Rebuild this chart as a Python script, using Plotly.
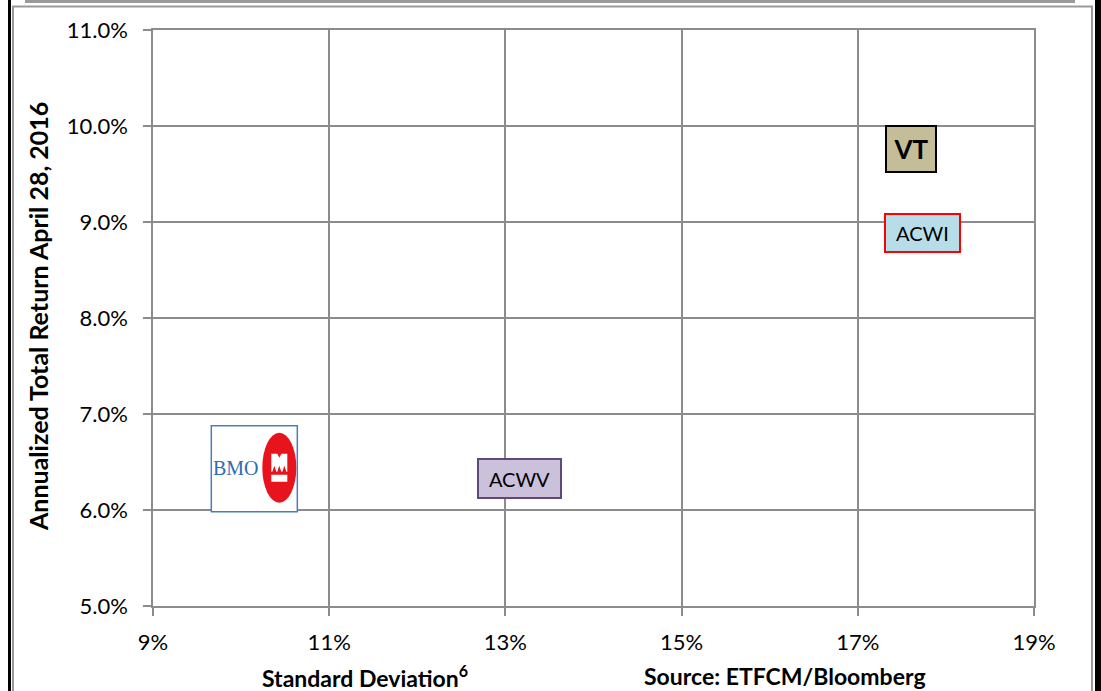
import plotly.graph_objects as go

# ---- data ----
funds = ["VT", "ACWI", "ACWV", "BMO"]
std_dev = [17.6, 17.73, 13.16, 10.15]
ann_return = [9.76, 8.885, 6.33, 6.43]
x_ticks = [9, 11, 13, 15, 17, 19]
x_tick_text = ["9%", "11%", "13%", "15%", "17%", "19%"]
y_ticks = [5, 6, 7, 8, 9, 10, 11]
y_tick_text = ["5.0%", "6.0%", "7.0%", "8.0%", "9.0%", "10.0%", "11.0%"]

FONT = "Lato, 'Open Sans', sans-serif"

W, H = 1101, 691
L, R, T, B = 153, 67, 30, 85
PW, PH = W - L - R, H - T - B


def px_x(p):
    return (p - L) / PW


def px_y(p):
    return (H - B - p) / PH


fig = go.Figure()
fig.add_trace(go.Scatter(x=std_dev, y=ann_return, mode="markers",
                         marker=dict(size=1, opacity=0), hoverinfo="text",
                         text=funds, showlegend=False))

styles = {
    "VT": dict(bg="#c4bd97", border="#000000", bw=2, w=48, h=44,
               text="<b>VT</b>", size=26),
    "ACWI": dict(bg="#b7dee8", border="#ff0000", bw=2, w=73, h=36,
                 text="ACWI", size=20),
    "ACWV": dict(bg="#ccc1da", border="#5f497a", bw=2, w=81, h=37,
                 text="ACWV", size=20),
}

annotations = []
shapes = []
for name, xv, yv in zip(funds, std_dev, ann_return):
    if name not in styles:
        continue
    s = styles[name]
    annotations.append(dict(
        x=xv, y=yv, xref="x", yref="y", showarrow=False,
        xanchor="center", yanchor="middle",
        text=s["text"], font=dict(family=FONT, size=s["size"], color="#000"),
        bgcolor=s["bg"], bordercolor=s["border"], borderwidth=s["bw"],
        borderpad=0, width=s["w"], height=s["h"], align="center",
        valign="middle"))

# BMO logo box: white box, blue text + red roundel with white M-bar
bi = funds.index("BMO")
bx, by = std_dev[bi], ann_return[bi]
shapes.append(dict(type="rect", xref="x", yref="y", xsizemode="pixel",
                   ysizemode="pixel", xanchor=bx, yanchor=by,
                   x0=-43, x1=43, y0=-43, y1=43, fillcolor="#ffffff",
                   line=dict(color="#4a7ebb", width=1.5), layer="above"))
shapes.append(dict(type="circle", xref="x", yref="y", xsizemode="pixel",
                   ysizemode="pixel", xanchor=bx, yanchor=by,
                   x0=8, x1=42, y0=-34, y1=36, fillcolor="#e8141d",
                   line=dict(width=0), layer="above"))
m_path = ("M 17,15 L 23,15 L 25,11 L 27,15 L 33,15 L 33,-3 L 32,-3 L 30,3 "
          "L 28,-3 L 27,-3 L 25,3 L 23,-3 L 22,-3 L 20,3 L 18,-3 L 17,-3 Z "
          "M 17,-6 L 33,-6 L 33,-13 L 17,-13 Z")
shapes.append(dict(type="path", xref="x", yref="y", xsizemode="pixel",
                   ysizemode="pixel", xanchor=bx, yanchor=by, path=m_path,
                   fillcolor="#ffffff", line=dict(width=0), layer="above"))
annotations.append(dict(
    x=bx, y=by, xref="x", yref="y", showarrow=False, xshift=-18, yshift=1,
    xanchor="center", yanchor="middle",
    text="BMO", font=dict(family="'Liberation Serif', 'DejaVu Serif', serif",
                          size=20, color="#2e6db4")))

# outer frame
shapes += [
    dict(type="line", xref="paper", yref="paper", x0=px_x(9.5), x1=px_x(9.5),
         y0=px_y(0), y1=px_y(H + 5), line=dict(color="#000", width=3)),
    dict(type="line", xref="paper", yref="paper", x0=px_x(1098), x1=px_x(1098),
         y0=px_y(0), y1=px_y(H + 5), line=dict(color="#000", width=6)),
    dict(type="rect", xref="paper", yref="paper", x0=px_x(13), x1=px_x(1092),
         y0=px_y(H + 5), y1=px_y(6.5), line=dict(color="#9a9a9a", width=2)),
    dict(type="line", xref="paper", yref="paper", x0=px_x(25), x1=px_x(1075),
         y0=px_y(1.5), y1=px_y(1.5), line=dict(color="#9a9a9a", width=3)),
]

annotations += [
    dict(xref="paper", yref="paper", x=px_x(38), y=px_y(317), showarrow=False,
         xanchor="center", yanchor="middle",
         textangle=-90, text="<b>Annualized Total Return April 28, 2016</b>",
         font=dict(family=FONT, size=25, color="#000")),
    dict(xref="paper", yref="paper", x=px_x(365), y=px_y(676), showarrow=False,
         xanchor="center", yanchor="middle",
         text="<b>Standard Deviation<sup>6</sup></b>",
         font=dict(family=FONT, size=23, color="#000")),
    dict(xref="paper", yref="paper", x=px_x(785), y=px_y(676), showarrow=False,
         xanchor="center", yanchor="middle",
         text="<b>Source: ETFCM/Bloomberg</b>",
         font=dict(family=FONT, size=23, color="#000")),
]

axis_common = dict(showgrid=True, gridcolor="#8c8c8c", gridwidth=1.5,
                   showline=True, linecolor="#8c8c8c", linewidth=1.5,
                   mirror=True, ticks="outside", ticklen=8, tickwidth=1.5,
                   tickcolor="#8c8c8c", zeroline=False,
                   tickfont=dict(family=FONT, size=22, color="#000"))

fig.update_layout(
    width=W, height=H, margin=dict(l=L, r=R, t=T, b=B),
    paper_bgcolor="#ffffff", plot_bgcolor="#ffffff",
    xaxis=dict(range=[9, 19], tickvals=x_ticks, ticktext=x_tick_text,
               ticklabelstandoff=8, **axis_common),
    yaxis=dict(range=[5, 11], tickvals=y_ticks, ticktext=y_tick_text,
               ticklabelstandoff=11, **axis_common),
    annotations=annotations, shapes=shapes, showlegend=False,
)

fig.write_html(
    "out.html",
    config={"displayModeBar": False},
    post_script="document.body.style.margin='0';"
                "document.body.style.overflow='hidden';",
)
